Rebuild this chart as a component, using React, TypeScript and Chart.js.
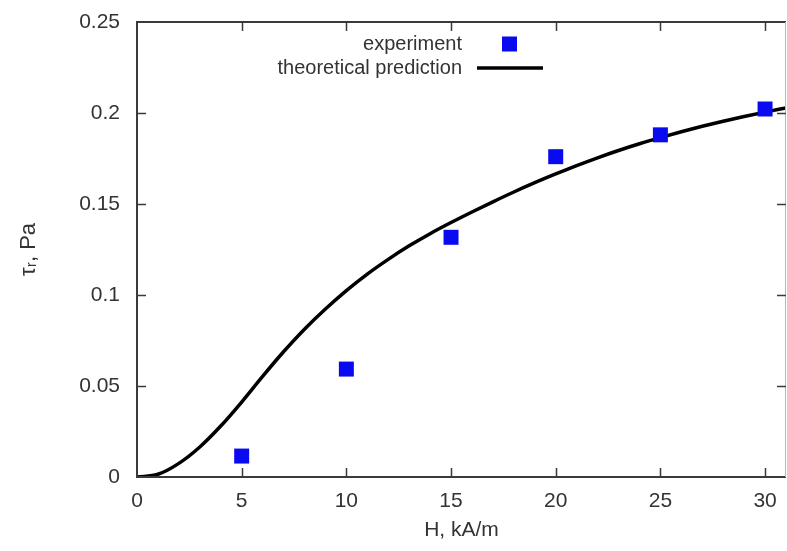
import React, { useEffect, useRef } from "react";
import { Chart, registerables } from "chart.js";

Chart.register(...registerables);

const expX = [5, 10, 15, 20, 25, 30];
const expY = [0.0115, 0.0593, 0.1317, 0.176, 0.188, 0.2022];

const theoX = [0, 1, 2, 3, 4, 5, 6, 7, 8, 9, 10, 11, 12, 13, 14, 15, 16, 17, 18, 19, 20, 21, 22, 23, 24, 25, 26, 27, 28, 29, 30, 31];
const theoY = [0, 0.0015, 0.0075, 0.0165, 0.028, 0.0412, 0.0553, 0.0688, 0.0812, 0.0923, 0.1024, 0.1115, 0.1196, 0.127, 0.1337, 0.1398, 0.1456, 0.1512, 0.1566, 0.1617, 0.1665, 0.1711, 0.1754, 0.1794, 0.1831, 0.1865, 0.1897, 0.1927, 0.1955, 0.1981, 0.2005, 0.2028];

const xTicks = [0, 5, 10, 15, 20, 25, 30];
const yTicks = [0, 0.05, 0.1, 0.15, 0.2, 0.25];

const FONT = "'Liberation Sans', Arial, Helvetica, sans-serif";
const TEXT = "#333333";
const FRAME = "#3a3a3a";

const fmt = (v: any) => String(Number(Number(v).toFixed(2)));

const framePlugin = {
  id: "frameTicks",
  afterDraw(chart: any) {
    const { ctx, chartArea } = chart;
    const { left, right, top, bottom } = chartArea;
    const xs = chart.scales.x;
    const ys = chart.scales.y;
    ctx.save();
    ctx.strokeStyle = FRAME;
    ctx.lineWidth = 2;
    ctx.beginPath();
    ctx.moveTo(left, top);
    ctx.lineTo(right, top);
    ctx.moveTo(left, top - 1);
    ctx.lineTo(left, bottom + 1);
    ctx.moveTo(left - 1, bottom);
    ctx.lineTo(right, bottom);
    ctx.stroke();
    ctx.strokeStyle = "#b8b8b8";
    ctx.lineWidth = 1;
    ctx.beginPath();
    ctx.moveTo(right - 0.5, top);
    ctx.lineTo(right - 0.5, bottom);
    ctx.stroke();
    ctx.strokeStyle = FRAME;
    ctx.lineWidth = 1.5;
    const tl = 9;
    ctx.beginPath();
    for (const v of xTicks) {
      const px = Math.round(xs.getPixelForValue(v)) + 0.5;
      if (v !== 0) {
        ctx.moveTo(px, bottom);
        ctx.lineTo(px, bottom - tl);
        ctx.moveTo(px, top);
        ctx.lineTo(px, top + tl);
      }
    }
    for (const v of yTicks) {
      const py = Math.round(ys.getPixelForValue(v)) + 0.5;
      if (v !== 0 && v !== 0.25) {
        ctx.moveTo(left, py);
        ctx.lineTo(left + tl, py);
        ctx.moveTo(right, py);
        ctx.lineTo(right - tl, py);
      }
    }
    ctx.stroke();

    // legend
    ctx.font = `20px ${FONT}`;
    ctx.fillStyle = TEXT;
    ctx.textAlign = "right";
    ctx.textBaseline = "middle";
    const tx = left + 325;
    const row1 = top + 22;
    const row2 = top + 46;
    ctx.fillText("experiment", tx, row1);
    ctx.fillText("theoretical prediction", tx, row2);
    ctx.fillStyle = "#0a0af0";
    ctx.fillRect(tx + 40, row1 - 7.5, 15, 15);
    ctx.strokeStyle = "#000000";
    ctx.lineWidth = 3.5;
    ctx.beginPath();
    ctx.moveTo(tx + 15, row2);
    ctx.lineTo(tx + 81, row2);
    ctx.stroke();
    ctx.restore();
  },
};

const zeroPad = (s: any) => {
  s.paddingLeft = 0;
  s.paddingRight = 0;
  s.paddingTop = 0;
  s.paddingBottom = 0;
};

export default function App() {
  const ref = useRef<HTMLCanvasElement | null>(null);
  useEffect(() => {
    document.body.style.margin = "0";
    const canvas = ref.current;
    if (!canvas) return;
    const chart = new Chart(canvas, {
      type: "scatter",
      data: {
        datasets: [
          {
            label: "theoretical prediction",
            data: theoX.map((x, i) => ({ x, y: theoY[i] })),
            showLine: true,
            borderColor: "#000000",
            borderWidth: 3.5,
            pointRadius: 0,
            cubicInterpolationMode: "monotone",
            fill: false,
            order: 2,
          },
          {
            label: "experiment",
            data: expX.map((x, i) => ({ x, y: expY[i] })),
            showLine: false,
            pointStyle: "rect",
            pointRadius: 10.6,
            pointBorderWidth: 0,
            backgroundColor: "#0a0af0",
            borderColor: "#0a0af0",
            order: 1,
          },
        ],
      },
      options: {
        animation: false,
        responsive: false,
        maintainAspectRatio: false,
        layout: { autoPadding: false, padding: { top: 22, right: 1, left: 0, bottom: 0 } },
        plugins: { legend: { display: false }, tooltip: { enabled: false } },
        scales: {
          x: {
            type: "linear",
            min: 0,
            max: 31,
            afterFit: (s: any) => {
              s.height = 74;
              zeroPad(s);
            },
            afterBuildTicks: (s: any) => {
              s.ticks = xTicks.map((v) => ({ value: v }));
            },
            grid: { display: false, drawTicks: false },
            border: { display: false },
            ticks: {
              padding: 12,
              color: TEXT,
              font: { family: FONT, size: 21 },
              maxRotation: 0,
              callback: fmt,
            },
            title: {
              display: true,
              text: "H, kA/m",
              color: TEXT,
              font: { family: FONT, size: 21 },
              padding: { top: 0, bottom: 8 },
            },
          },
          y: {
            type: "linear",
            min: 0,
            max: 0.25,
            afterFit: (s: any) => {
              s.width = 137;
              zeroPad(s);
            },
            afterBuildTicks: (s: any) => {
              s.ticks = yTicks.map((v) => ({ value: v }));
            },
            grid: { display: false, drawTicks: false },
            border: { display: false },
            ticks: {
              padding: 17,
              color: TEXT,
              font: { family: FONT, size: 21 },
              callback: fmt,
            },
            title: {
              display: true,
              text: "τᵣ, Pa",
              color: TEXT,
              font: { family: FONT, size: 22 },
              padding: { top: 16, bottom: 0 },
            },
          },
        },
      },
      plugins: [framePlugin],
    } as any);
    return () => chart.destroy();
  }, []);
  return (
    <div style={{ width: 787, height: 551, position: "relative" }}>
      <canvas ref={ref} width={787} height={551} style={{ width: 787, height: 551, display: "block" }} />
    </div>
  );
}
